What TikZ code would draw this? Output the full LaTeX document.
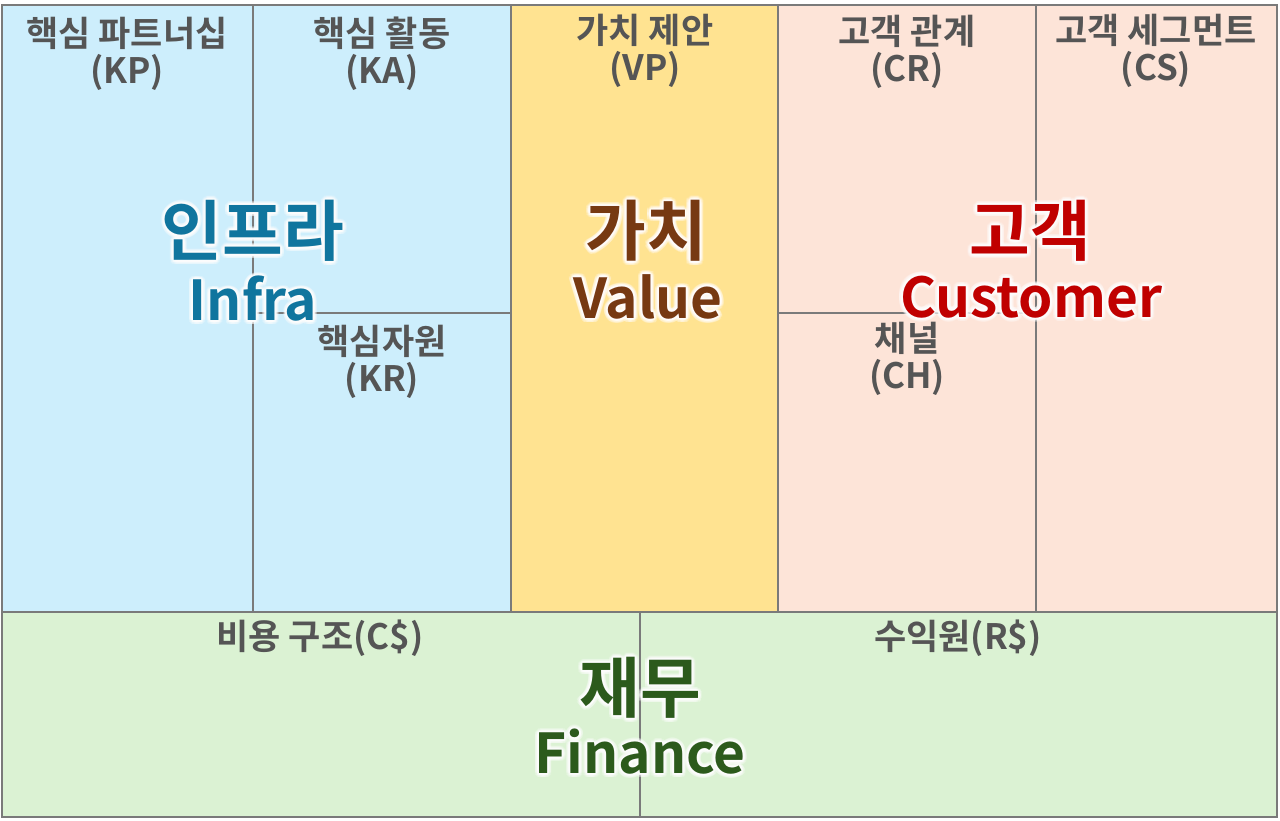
\documentclass[tikz,border=0pt]{standalone}
\usepackage{fontspec}
\setmainfont{Noto Sans CJK KR}[BoldFont={Noto Sans CJK KR Bold}]
\definecolor{cblue}{HTML}{CDEEFC}
\definecolor{cyel}{HTML}{FFE391}
\definecolor{cpeach}{HTML}{FDE4D8}
\definecolor{cgreen}{HTML}{DBF2D3}
\definecolor{cline}{HTML}{7A7A7A}
\definecolor{clabel}{HTML}{555555}
\definecolor{tinfra}{HTML}{10759E}
\definecolor{tvalue}{HTML}{773912}
\definecolor{tcust}{HTML}{C00000}
\definecolor{tfin}{HTML}{2C5A1C}
\tikzset{
  grid/.style={draw=cline, line width=2.8pt},
  lbl/.style={text=clabel, font=\bfseries\fontsize{35}{37}\selectfont, align=center, inner sep=0pt},
  ttlk/.style={font=\bfseries\fontsize{66}{70}\selectfont, inner sep=0pt},
  ttll/.style={font=\bfseries\fontsize{55}{60}\selectfont, inner sep=0pt},
}
\newcommand{\glowtext}[3]{% position, style, text
  \foreach \ang in {0,20,...,340}{
    \node[#2, text=white, opacity=0.22] at ([shift={(\ang:4)}]#1) {#3};
    \node[#2, text=white, opacity=0.3] at ([shift={(\ang:2)}]#1) {#3};
  }
}
\begin{document}
\begin{tikzpicture}[x=1pt,y=-1pt]
\useasboundingbox (0,0) rectangle (1280,820);
% fills
\fill[cblue] (2,5) rectangle (511,612);
\fill[cyel] (511,5) rectangle (778,612);
\fill[cpeach] (778,5) rectangle (1277,612);
\fill[cgreen] (2,612) rectangle (1277,817);
% grid lines
\coordinate (tl) at (2,5);
\coordinate (br) at (1277,817);
\draw[grid] (tl) rectangle (br);
\coordinate (a1) at (2,612); \coordinate (a2) at (1277,612);
\draw[grid] (a1) -- (a2);
\foreach \x in {253,511,778,1036}{ \draw[grid] (\x,5) -- (\x,612); }
\coordinate (h1) at (253,313); \coordinate (h2) at (511,313);
\draw[grid] (h1) -- (h2);
\coordinate (h3) at (778,313); \coordinate (h4) at (1036,313);
\draw[grid] (h3) -- (h4);
\coordinate (v1) at (640,612); \coordinate (v2) at (640,817);
\draw[grid] (v1) -- (v2);
% labels
\node[lbl] (kp) at (127,54) {핵심 파트너십\\(KP)};
\node[lbl] (ka) at (382,54) {핵심 활동\\(KA)};
\node[lbl] (vp) at (645,51) {가치 제안\\(VP)};
\node[lbl] (cr) at (907,52) {고객 관계\\(CR)};
\node[lbl] (cs) at (1156,51) {고객 세그먼트\\(CS)};
\node[lbl] (kr) at (382,362) {핵심자원\\(KR)};
\node[lbl] (ch) at (907,359) {채널\\(CH)};
\node[lbl] (cost) at (320,638) {비용 구조(C\$)};
\node[lbl] (rev) at (958,638) {수익원(R\$)};
% titles
\coordinate (pinfrak) at (253,231);
\coordinate (pinfral) at (253,299);
\coordinate (pvaluek) at (646,231);
\coordinate (pvaluel) at (648,297);
\coordinate (pcustk) at (1030,231);
\coordinate (pcustl) at (1031,297);
\coordinate (pfink) at (640,688);
\coordinate (pfinl) at (640,752);
\glowtext{pinfrak}{ttlk}{인프라}
\glowtext{pinfral}{ttll}{Infra}
\glowtext{pvaluek}{ttlk}{가치}
\glowtext{pvaluel}{ttll}{Value}
\glowtext{pcustk}{ttlk}{고객}
\glowtext{pcustl}{ttll}{Customer}
\glowtext{pfink}{ttlk}{재무}
\glowtext{pfinl}{ttll}{Finance}
\node[ttlk, text=tinfra] (infrak) at (pinfrak) {인프라};
\node[ttll, text=tinfra] (infral) at (pinfral) {Infra};
\node[ttlk, text=tvalue] (valuek) at (pvaluek) {가치};
\node[ttll, text=tvalue] (valuel) at (pvaluel) {Value};
\node[ttlk, text=tcust] (custk) at (pcustk) {고객};
\node[ttll, text=tcust] (custl) at (pcustl) {Customer};
\node[ttlk, text=tfin] (fink) at (pfink) {재무};
\node[ttll, text=tfin] (finl) at (pfinl) {Finance};
\end{tikzpicture}
\end{document}
